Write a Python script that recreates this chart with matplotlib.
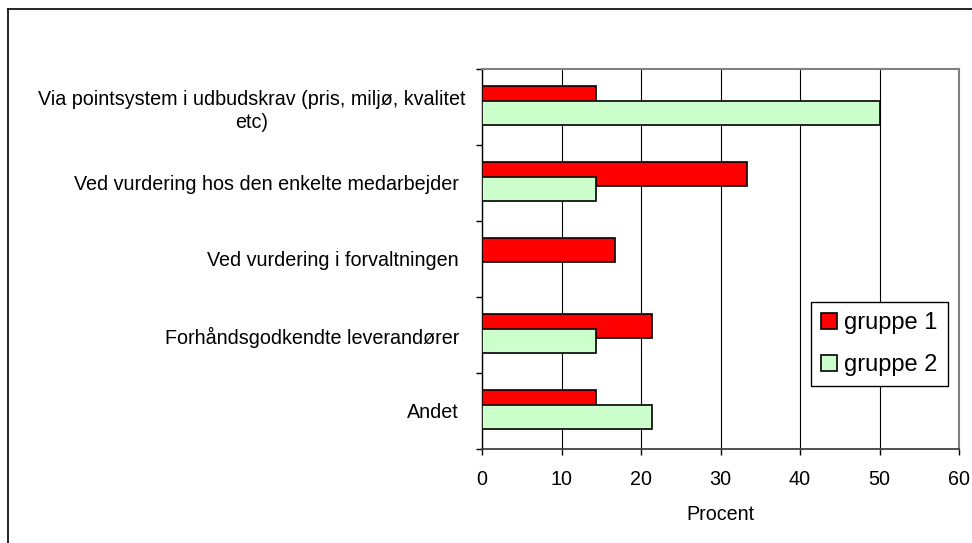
import matplotlib
matplotlib.use("Agg")
import matplotlib.pyplot as plt
from matplotlib.lines import Line2D
from matplotlib.transforms import ScaledTranslation
import numpy as np

plt.rcParams['font.family'] = ['Liberation Sans', 'DejaVu Sans']

categories = [
    "Via pointsystem i udbudskrav (pris, miljø, kvalitet\netc)",
    "Ved vurdering hos den enkelte medarbejder",
    "Ved vurdering i forvaltningen",
    "Forhåndsgodkendte leverandører",
    "Andet",
]
gruppe1 = [14.3, 33.3, 16.7, 21.4, 14.3]
gruppe2 = [50.0, 14.3, 0.0, 14.3, 21.4]
series_names = ["gruppe 1", "gruppe 2"]
x_ticks = [0, 10, 20, 30, 40, 50, 60]
x_label = "Procent"

W, H = 972, 543
fig = plt.figure(figsize=(W / 100, H / 100), dpi=100)
ax = fig.add_axes([482 / W, 1 - 449 / H, (959 - 482) / W, (449 - 69) / H])

y = np.arange(len(categories))
bar_h = 0.31
off1, off2 = -0.116, 0.079

ax.barh(y + off1, gruppe1, height=bar_h, color="#FF0000", edgecolor="black",
        linewidth=1.2, label=series_names[0], zorder=3)
ax.barh(y + off2, gruppe2, height=bar_h, color="#CCFFCC", edgecolor="black",
        linewidth=1.2, label=series_names[1], zorder=4)

ax.set_xlim(0, 60)
ax.set_ylim(len(categories) - 0.5, -0.5)
ax.set_xticks(x_ticks)
ax.set_xticklabels([str(t) for t in x_ticks], fontsize=14.2)
ax.tick_params(axis='x', direction='out', length=4.5, width=1, pad=10.5, colors='black')

# y: ticks at boundaries, labels at centers
ax.set_yticks(np.arange(len(categories) + 1) - 0.5)
ax.set_yticklabels([])
ax.set_yticks(y, minor=True)
labels = ax.set_yticklabels(categories, minor=True, fontsize=14.2, ha='right',
                            multialignment='center', linespacing=1.3)
ax.tick_params(axis='y', which='major', direction='out', length=4.5, width=1)
ax.tick_params(axis='y', which='minor', length=0, pad=16.5)
labels[0].set_transform(labels[0].get_transform() +
                        ScaledTranslation(6 / 100, 0, fig.dpi_scale_trans))

ax.xaxis.grid(True, color='black', linewidth=0.8, zorder=0)
ax.set_axisbelow(True)

ax.spines['top'].set_color('#808080')
ax.spines['top'].set_linewidth(1.5)
ax.spines['right'].set_color('#808080')
ax.spines['right'].set_linewidth(1.5)
ax.spines['bottom'].set_color('#404040')
ax.spines['bottom'].set_linewidth(1.3)
ax.spines['left'].set_color('black')
ax.spines['left'].set_linewidth(1.0)

ax.set_xlabel(x_label, fontsize=14.2, labelpad=12)

leg = ax.legend(loc='upper left', bbox_to_anchor=(811 / W, 1 - 302 / H),
                bbox_transform=fig.transFigure, fontsize=17, frameon=True,
                fancybox=False, edgecolor='black', framealpha=1,
                handlelength=0.65, handleheight=0.65, handletextpad=0.32,
                labelspacing=0.85, borderpad=0.43, borderaxespad=0)
leg.get_frame().set_linewidth(1.0)

# outer chart border (left and top visible)
fig.add_artist(Line2D([8 / W, 8 / W], [0, 1 - 9 / H], transform=fig.transFigure,
                      color='black', linewidth=1.2))
fig.add_artist(Line2D([8 / W, 1], [1 - 9 / H, 1 - 9 / H], transform=fig.transFigure,
                      color='black', linewidth=1.2))

fig.savefig("out.png", dpi=100)
